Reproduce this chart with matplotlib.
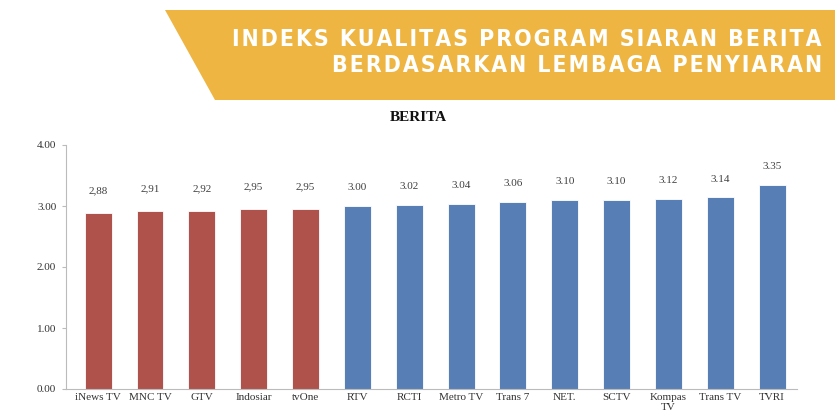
import matplotlib as mpl
mpl.use('Agg')
import matplotlib.pyplot as plt
from matplotlib.patches import Polygon

channels = ['iNews TV', 'MNC TV', 'GTV', 'Indosiar', 'tvOne', 'RTV', 'RCTI',
            'Metro TV', 'Trans 7', 'NET.', 'SCTV', 'Kompas\nTV', 'Trans TV', 'TVRI']
scores = [2.88, 2.91, 2.92, 2.95, 2.95, 3.00, 3.02, 3.04, 3.06, 3.10, 3.10, 3.12, 3.14, 3.35]
n_low = 5  # first five bars are drawn in red, labels with decimal comma

red = '#B0524C'
blue = '#587FB5'

fig = plt.figure(figsize=(8.35, 4.13), dpi=100)
fig.patch.set_facecolor('white')

# banner
banner = Polygon([(165 / 835, 1 - 10 / 413), (1.0, 1 - 10 / 413),
                  (1.0, 1 - 100 / 413), (215 / 835, 1 - 100 / 413)],
                 closed=True, transform=fig.transFigure, facecolor='#EEB543',
                 edgecolor='none')
fig.patches.append(banner)

def spaced(s):
    return '\u200a'.join(s)

for txt, ypix in [('INDEKS KUALITAS PROGRAM SIARAN BERITA', 40),
                  ('BERDASARKAN LEMBAGA PENYIARAN', 65)]:
    fig.text(822 / 835, 1 - ypix / 413, spaced(txt), ha='right', va='center',
             color='white', fontsize=16.5, fontweight='bold', fontstretch='condensed',
             family=['DejaVu Sans'])

fig.text(418 / 835, 1 - 117 / 413, 'BERITA', ha='center', va='center',
         fontsize=11, fontweight='bold', family='Liberation Serif', color='#111111')

ax = fig.add_axes([66 / 835, 1 - 389 / 413, (797 - 66) / 835, (389 - 145) / 413])
x = list(range(len(channels)))
colors = [red if i < n_low else blue for i in x]
bars = ax.bar(x, scores, width=0.52, color=colors, edgecolor='white', linewidth=0.6)

for i, (b, v) in enumerate(zip(bars, scores)):
    if i < n_low:
        txt = f'{v:.2f}'.replace('.', ',')
        off = 13
    else:
        txt = f'{v:.2f}'
        off = 10
    ax.annotate(txt, (b.get_x() + b.get_width() / 2, v), xytext=(0, off),
                textcoords='offset points', ha='center', va='bottom',
                fontsize=8, family='Liberation Serif', color='#404040')

ax.set_xlim(-0.62, 13.48)
ax.set_ylim(0, 4)
ax.set_yticks([0, 1, 2, 3, 4])
ax.set_yticklabels([f'{t:.2f}' for t in [0, 1, 2, 3, 4]])
ax.set_xticks(x)
ax.set_xticklabels(channels, linespacing=1.05)
for lab in ax.get_xticklabels() + ax.get_yticklabels():
    lab.set_family('Liberation Serif')
    lab.set_fontsize(8)
    lab.set_color('#333333')
ax.tick_params(axis='x', length=0, pad=3)
ax.tick_params(axis='y', length=3, color='#BBBBBB', pad=4)
for s in ['top', 'right']:
    ax.spines[s].set_visible(False)
for s in ['left', 'bottom']:
    ax.spines[s].set_color('#BBBBBB')
    ax.spines[s].set_linewidth(0.8)

fig.savefig('out.png', dpi=100)
